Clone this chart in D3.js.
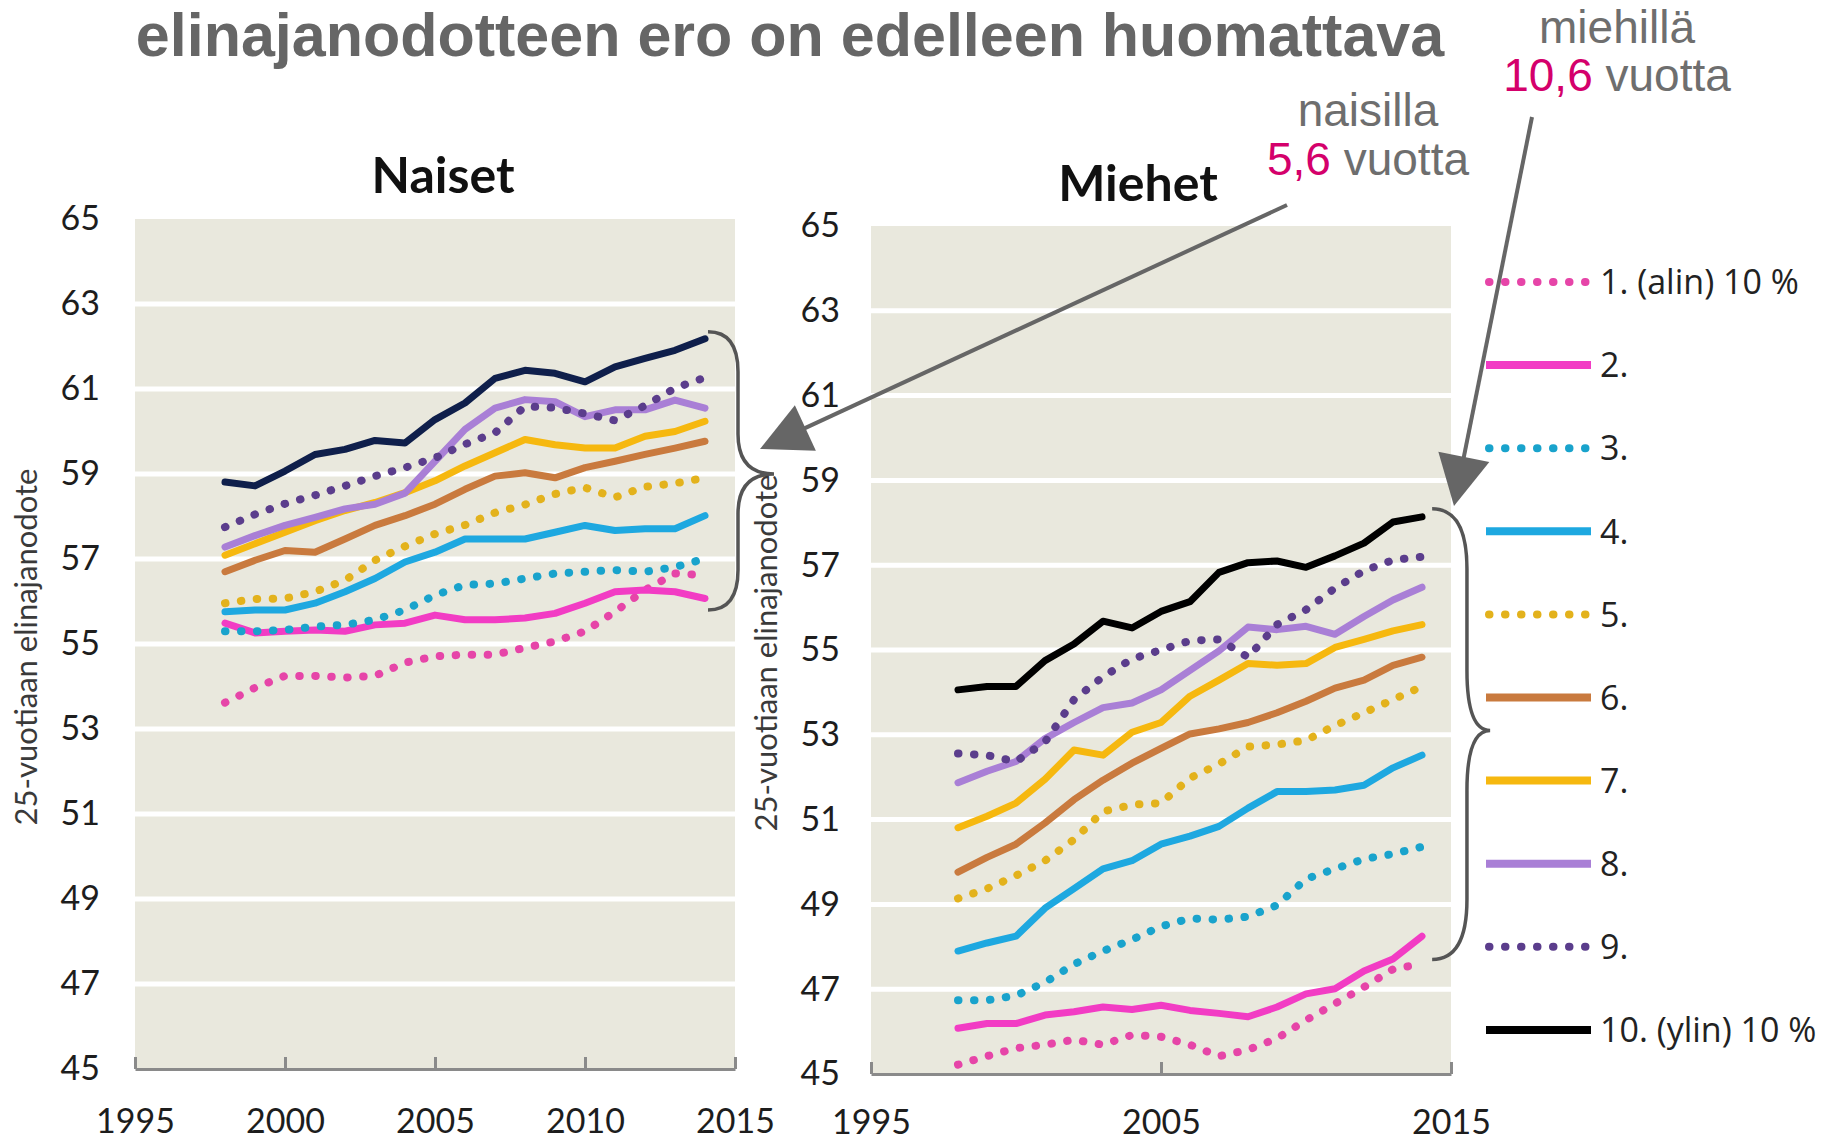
<!DOCTYPE html>
<html><head><meta charset="utf-8">
<script src="https://cdn.jsdelivr.net/npm/d3@7"></script>
<style>html,body{margin:0;padding:0;background:#fff;overflow:hidden}</style>
</head><body>
<svg id="c" width="1834" height="1144" xmlns="http://www.w3.org/2000/svg"></svg>
<script>
// ---------------- data ----------------
const years = [1998,1999,2000,2001,2002,2003,2004,2005,2006,2007,2008,2009,2010,2011,2012,2013,2014];
const seriesNames = ["1. (alin) 10 %","2.","3.","4.","5.","6.","7.","8.","9.","10. (ylin) 10 %"];
const seriesDotted = [true,false,true,false,true,false,false,false,true,false];
const seriesColors = ["#e645a8","#f23cc4","#19a3cc","#1ea8e0","#e3b21c","#c97a3e","#f6b80f","#a97fd6","#5b3d8c","#000000"];
const naisetTopColor = "#0f1f4b";

const naiset1  = [53.62,53.97,54.25,54.25,54.21,54.25,54.56,54.71,54.75,54.75,54.91,55.06,55.30,55.76,56.27,56.66,56.62];
const naiset2  = [55.49,55.26,55.30,55.33,55.30,55.45,55.49,55.68,55.57,55.57,55.61,55.72,55.96,56.23,56.27,56.23,56.07];
const naiset3  = [55.30,55.30,55.33,55.41,55.45,55.57,55.80,56.15,56.39,56.42,56.54,56.66,56.70,56.74,56.70,56.81,57.01];
const naiset4  = [55.76,55.80,55.80,55.96,56.23,56.54,56.93,57.16,57.47,57.47,57.47,57.63,57.79,57.67,57.71,57.71,58.02];
const naiset5  = [55.96,56.06,56.07,56.23,56.50,56.97,57.30,57.59,57.80,58.09,58.28,58.53,58.68,58.45,58.70,58.78,58.91];
const naiset6  = [56.70,56.97,57.20,57.16,57.47,57.79,58.02,58.29,58.64,58.95,59.03,58.91,59.15,59.30,59.46,59.61,59.77];
const naiset7  = [57.09,57.36,57.63,57.90,58.14,58.33,58.56,58.84,59.19,59.50,59.81,59.69,59.61,59.61,59.89,60.00,60.24];
const naiset8  = [57.28,57.55,57.79,57.98,58.18,58.29,58.55,59.30,60.05,60.55,60.75,60.70,60.35,60.51,60.51,60.74,60.55];
const naiset9  = [57.75,58.05,58.30,58.50,58.72,58.95,59.15,59.38,59.70,59.97,60.59,60.56,60.42,60.26,60.61,61.02,61.27];
const naiset10 = [58.81,58.72,59.07,59.46,59.58,59.79,59.73,60.28,60.67,61.25,61.44,61.37,61.17,61.52,61.72,61.91,62.18];

const miehet1  = [45.22,45.42,45.61,45.69,45.81,45.69,45.92,45.88,45.69,45.42,45.57,45.84,46.27,46.66,47.05,47.47,47.60];
const miehet2  = [46.08,46.19,46.19,46.39,46.47,46.58,46.52,46.62,46.50,46.43,46.35,46.58,46.89,47.01,47.43,47.71,48.25];
const miehet3  = [46.74,46.74,46.85,47.16,47.59,47.90,48.17,48.48,48.67,48.64,48.71,48.98,49.60,49.84,50.07,50.19,50.36];
const miehet4  = [47.90,48.09,48.25,48.91,49.37,49.84,50.03,50.42,50.61,50.84,51.27,51.66,51.66,51.70,51.81,52.22,52.52];
const miehet5  = [49.14,49.37,49.68,50.03,50.53,51.19,51.35,51.39,51.98,52.31,52.72,52.77,52.87,53.22,53.52,53.83,54.14];
const miehet6  = [49.76,50.11,50.42,50.92,51.47,51.93,52.33,52.68,53.02,53.14,53.29,53.52,53.79,54.10,54.29,54.64,54.83];
const miehet7  = [50.81,51.08,51.39,51.95,52.64,52.52,53.06,53.29,53.91,54.29,54.68,54.64,54.68,55.06,55.25,55.45,55.60];
const miehet8  = [51.87,52.14,52.37,52.91,53.29,53.64,53.75,54.06,54.52,54.98,55.54,55.48,55.56,55.37,55.79,56.18,56.48];
const miehet9  = [52.56,52.52,52.37,52.83,53.83,54.37,54.79,55.00,55.22,55.25,54.83,55.60,55.95,56.46,56.87,57.12,57.20];
const miehet10 = [54.06,54.14,54.14,54.75,55.14,55.68,55.52,55.91,56.14,56.83,57.06,57.10,56.95,57.22,57.52,58.02,58.14];

const yTickValues = [45,47,49,51,53,55,57,59,61,63,65];
const xTicksNaiset = [1995,2000,2005,2010,2015];
const xTicksMiehet = [1995,2005,2015];

const naisetSeries = [naiset1,naiset2,naiset3,naiset4,naiset5,naiset6,naiset7,naiset8,naiset9,naiset10];
const miehetSeries = [miehet1,miehet2,miehet3,miehet4,miehet5,miehet6,miehet7,miehet8,miehet9,miehet10];

// ---------------- drawing ----------------
const svg = d3.select("#c");
const BG = "#e9e8dd";
const DOT = "0.5 15.5";

function panel(cfg) {
  const g = svg.append("g");
  const x = d3.scaleLinear().domain([1995, 2015]).range([cfg.x0, cfg.x1]);
  const y = d3.scaleLinear().domain([45, 65]).range([cfg.yb, cfg.yt]);

  g.append("rect").attr("x", x(1995)).attr("y", y(65))
    .attr("width", x(2015) - x(1995)).attr("height", y(45) - y(65)).attr("fill", BG);

  g.selectAll("line.grid").data(yTickValues.filter(v => v > 45 && v < 65)).join("line")
    .attr("class", "grid").attr("x1", x(1995)).attr("x2", x(2015))
    .attr("y1", d => y(d)).attr("y2", d => y(d))
    .attr("stroke", "#ffffff").attr("stroke-width", 5);

  // y axis labels
  const ya = g.append("g").attr("transform", `translate(${x(1995)},0)`)
    .call(d3.axisLeft(y).tickValues(yTickValues).tickSize(0).tickPadding(cfg.ypad).tickFormat(d3.format("d")));
  ya.select(".domain").remove();
  ya.selectAll("text").attr("font-family", "Lato, 'Open Sans', sans-serif").attr("font-size", 34).attr("fill", "#1d1d1d");

  // x axis
  const xa = g.append("g").attr("transform", `translate(0,${y(45)})`)
    .call(d3.axisBottom(x).tickValues(cfg.xticks).tickSize(-12).tickSizeOuter(0).tickPadding(cfg.xpad).tickFormat(d3.format("d")));
  xa.select(".domain").attr("stroke", "#8a8a8a").attr("stroke-width", 3);
  xa.selectAll(".tick line").attr("stroke", "#8a8a8a").attr("stroke-width", 3);
  xa.selectAll("text").attr("font-family", "Lato, 'Open Sans', sans-serif").attr("font-size", 34).attr("fill", "#1d1d1d");

  // series
  const line = d3.line().x((d, i) => x(years[i])).y(d => y(d));
  cfg.series.forEach((s, k) => {
    g.append("path").datum(s).attr("d", line).attr("fill", "none")
      .attr("stroke", k === 9 ? cfg.topColor : seriesColors[k])
      .attr("stroke-width", seriesDotted[k] ? 8 : 7)
      .attr("stroke-linecap", "round").attr("stroke-linejoin", "round")
      .attr("stroke-dasharray", seriesDotted[k] ? DOT : null);
  });

  // panel title
  g.append("text").attr("x", (x(1995) + x(2015)) / 2 + cfg.titleDx).attr("y", cfg.titleY)
    .attr("text-anchor", "middle").attr("font-family", "Lato, sans-serif").attr("font-weight", 700)
    .attr("font-size", 50).attr("fill", "#111").text(cfg.title);

  // y axis title
  g.append("text").attr("transform", `translate(${cfg.ytX},${(y(45) + y(65)) / 2 + 3}) rotate(-90)`)
    .attr("text-anchor", "middle").attr("font-family", "Lato, 'Open Sans', sans-serif")
    .attr("font-size", 31).attr("fill", "#3a3a3a").text("25-vuotiaan elinajanodote");

  // brace
  const b = cfg.brace;
  const bx0 = x(b.yearL), bxs = x(b.yearS), bxt = x(b.yearT);
  const by0 = y(b.top), bym = y(b.mid), by1 = y(b.bot), r = b.r;
  g.append("path").attr("fill", "none").attr("stroke", "#555").attr("stroke-width", 3.5)
    .attr("d", `M${bx0},${by0} Q${bxs},${by0} ${bxs},${by0 + r} L${bxs},${bym - r} Q${bxs},${bym} ${bxt},${bym} Q${bxs},${bym} ${bxs},${bym + r} L${bxs},${by1 - r} Q${bxs},${by1} ${bx0},${by1}`);
  return {x, y};
}

panel({x0: 135, x1: 735, yb: 1069, yt: 219, ypad: 35, xpad: 40, xticks: xTicksNaiset,
  series: naisetSeries, topColor: naisetTopColor, title: "Naiset", titleDx: 8, titleY: 193, ytX: 37,
  brace: {yearL: 2014.1, yearS: 2015.1, yearT: 2016.3, top: 62.35, mid: 59.0, bot: 55.8, r: 40}});

panel({x0: 871, x1: 1451, yb: 1074, yt: 226, ypad: 31, xpad: 36, xticks: xTicksMiehet,
  series: miehetSeries, topColor: "#000000", title: "Miehet", titleDx: -23, titleY: 201, ytX: 777,
  brace: {yearL: 2014.35, yearS: 2015.55, yearT: 2016.35, top: 58.33, mid: 53.1, bot: 47.7, r: 60}});

// main title (second line visible)
svg.append("text").attr("x", 790).attr("y", 56).attr("text-anchor", "middle")
  .attr("font-family", "'Liberation Sans', Arial, sans-serif").attr("font-weight", 700)
  .attr("font-size", 61).attr("fill", "#666666").text("elinajanodotteen ero on edelleen huomattava");

// annotations
const annFont = "'Liberation Sans', Arial, sans-serif";
const GRAY = "#6e6e6e", MAG = "#d4006b";
function ann(cx, y1, y2, w1, num) {
  svg.append("text").attr("x", cx).attr("y", y1).attr("text-anchor", "middle")
    .attr("font-family", annFont).attr("font-size", 46).attr("fill", GRAY).text(w1);
  const t = svg.append("text").attr("x", cx).attr("y", y2).attr("text-anchor", "middle")
    .attr("font-family", annFont).attr("font-size", 46).attr("fill", GRAY);
  t.append("tspan").attr("fill", MAG).text(num);
  t.append("tspan").text(" vuotta");
}
ann(1617, 43, 91, "miehillä", "10,6");
ann(1368, 126, 175, "naisilla", "5,6");

function arrow(x1, y1, x2, y2, len, wid) {
  const dx = x2 - x1, dy = y2 - y1, L = Math.hypot(dx, dy);
  const ux = dx / L, uy = dy / L, px = -uy, py = ux;
  const bx = x2 - ux * len, by = y2 - uy * len;
  svg.append("line").attr("x1", x1).attr("y1", y1).attr("x2", bx + ux * 4).attr("y2", by + uy * 4)
    .attr("stroke", "#666").attr("stroke-width", 4);
  svg.append("path").attr("fill", "#666")
    .attr("d", `M${x2},${y2} L${bx + px * wid / 2},${by + py * wid / 2} L${bx - px * wid / 2},${by - py * wid / 2} Z`);
}
arrow(1287, 205, 760, 449, 50, 50);
arrow(1532, 117, 1454, 506, 50, 52);

// legend
const legX0 = 1486, legX1 = 1591, legTextX = 1600, legY0 = 282, legStep = 83.1;
const leg = svg.append("g");
seriesNames.forEach((name, k) => {
  const yy = legY0 + k * legStep;
  leg.append("line").attr("x1", legX0 + (seriesDotted[k] ? 3 : 0)).attr("x2", legX1).attr("y1", yy).attr("y2", yy)
    .attr("stroke", seriesColors[k]).attr("stroke-width", 8)
    .attr("stroke-linecap", seriesDotted[k] ? "round" : "butt")
    .attr("stroke-dasharray", seriesDotted[k] ? "0.5 15.5" : null);
  leg.append("text").attr("x", legTextX).attr("y", yy).attr("dy", "0.36em")
    .attr("font-family", "'Open Sans', sans-serif").attr("font-size", 34).attr("fill", "#222").text(name);
});
</script>
</body></html>
